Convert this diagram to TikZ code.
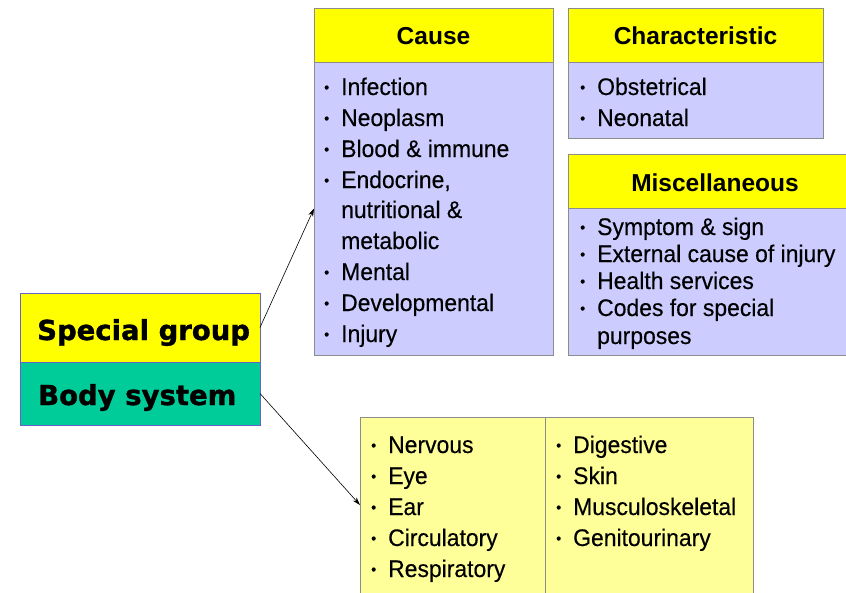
\documentclass[tikz,border=0pt]{standalone}
\usepackage{fontspec}
\setmainfont{Liberation Sans}
\newfontfamily\itemfont[FakeStretch=0.955,FakeBold=0.3]{Liberation Sans}
\newfontfamily\bigfont[BoldFeatures={FakeBold=1.2}]{DejaVu Sans}
\usetikzlibrary{arrows.meta}
\definecolor{hdr}{HTML}{FFFF00}
\definecolor{lav}{HTML}{CCCCFF}
\definecolor{pale}{HTML}{FFFF99}
\definecolor{teal}{HTML}{00CC99}
\definecolor{boxline}{HTML}{8C8C8C}
\definecolor{blueline}{HTML}{6464C8}
\newcommand\bul{\llap{\raisebox{2.5pt}{\fontsize{15}{15}\selectfont\textbullet}\hspace{12pt}}}
\tikzset{
  box/.style={draw=boxline, line width=0.8pt, anchor=north west, inner sep=0pt, outer sep=0pt},
  item/.style={anchor=base west, inner sep=0pt, font=\itemfont\fontsize{24}{28}\selectfont},
  head/.style={anchor=base, inner sep=0pt, font=\bfseries\fontsize{24.5}{28}\selectfont},
  big/.style={anchor=base west, inner sep=0pt, font=\bigfont\bfseries\fontsize{27.5}{30}\selectfont},
  conn/.style={-{Stealth[length=8pt,width=5pt]}, line width=0.6pt},
}
\begin{document}
\begin{tikzpicture}[x=1pt,y=-1pt]
\useasboundingbox (0,0) rectangle (846,592);
% left boxes
\node[box, draw=blueline, fill=hdr, minimum width=240pt, minimum height=69pt] (sg) at (20,293) {};
\node[box, draw=blueline, fill=teal, minimum width=240pt, minimum height=63pt] (bs) at (20,362) {};
\node[big] (sgt) at (37,340) {Special group};
\node[big] (bst) at (38,405) {Body system};
% cause
\node[box, fill=hdr, minimum width=239pt, minimum height=54pt] (causeh) at (314,8) {};
\node[box, fill=lav, minimum width=239pt, minimum height=293pt] (causeb) at (314,62) {};
\node[head] (causet) at (433.5,44) {Cause};
\node[item] (c1) at (341,95) {\bul Infection};
\node[item] (c2) at (341,126) {\bul Neoplasm};
\node[item] (c3) at (341,157) {\bul Blood \& immune};
\node[item] (c4) at (341,188) {\bul Endocrine,};
\node[item] (c5) at (341,218) {nutritional \&};
\node[item] (c6) at (341,249) {metabolic};
\node[item] (c7) at (341,280) {\bul Mental};
\node[item] (c8) at (341,311) {\bul Developmental};
\node[item] (c9) at (341,342) {\bul Injury};
% characteristic
\node[box, fill=hdr, minimum width=255pt, minimum height=54pt] (charh) at (568,8) {};
\node[box, fill=lav, minimum width=255pt, minimum height=76pt] (charb) at (568,62) {};
\node[head] (chart) at (695.5,44) {Characteristic};
\node[item] (h1) at (597,95) {\bul Obstetrical};
\node[item] (h2) at (597,126) {\bul Neonatal};
% miscellaneous
\node[box, fill=hdr, minimum width=294pt, minimum height=54pt] (misch) at (568,154) {};
\node[box, fill=lav, minimum width=294pt, minimum height=147pt] (miscb) at (568,208) {};
\node[head] (misct) at (715,191) {Miscellaneous};
\node[item] (m1) at (597,235) {\bul Symptom \& sign};
\node[item] (m2) at (597,262) {\bul External cause of injury};
\node[item] (m3) at (597,289) {\bul Health services};
\node[item] (m4) at (597,316) {\bul Codes for special};
\node[item] (m5) at (597,344) {purposes};
% body systems
\node[box, fill=pale, minimum width=393pt, minimum height=176pt] (bot) at (360,417) {};
\draw[boxline, line width=0.8pt] (545,417) -- (545,593);
\node[item] (b1) at (388,453) {\bul Nervous};
\node[item] (b2) at (388,484) {\bul Eye};
\node[item] (b3) at (388,515) {\bul Ear};
\node[item] (b4) at (388,546) {\bul Circulatory};
\node[item] (b5) at (388,577) {\bul Respiratory};
\node[item] (d1) at (573,453) {\bul Digestive};
\node[item] (d2) at (573,484) {\bul Skin};
\node[item] (d3) at (573,515) {\bul Musculoskeletal};
\node[item] (d4) at (573,546) {\bul Genitourinary};
% connectors
\draw[conn] (sg.east) -- (causeb.west);
\draw[conn] (bs.east) -- (bot.west);
\end{tikzpicture}
\end{document}
